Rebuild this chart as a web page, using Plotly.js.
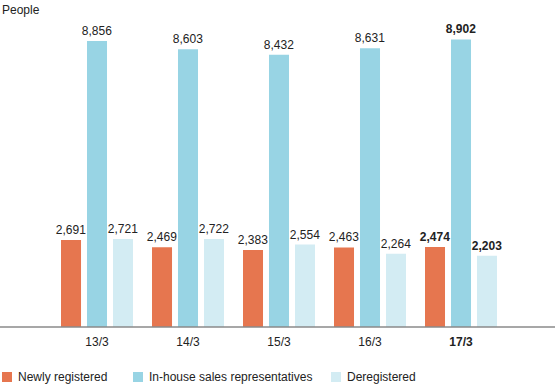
<!DOCTYPE html>
<html>
<head>
<meta charset="utf-8">
<script src="https://cdn.plot.ly/plotly-3.0.1.min.js"></script>
<style>html,body{margin:0;padding:0;background:#fff;}#chart{width:555px;height:386px;}</style>
</head>
<body>
<div id="chart"></div>
<script>
const categories = ["13/3", "14/3", "15/3", "16/3", "17/3"];
const tickLabels = ["13/3", "14/3", "15/3", "16/3", "<b>17/3</b>"];
const newlyRegistered = [2691, 2469, 2383, 2463, 2474];
const inHouseReps = [8856, 8603, 8432, 8631, 8902];
const deregistered = [2721, 2722, 2554, 2264, 2203];
const seriesNames = ["Newly registered", "In-house sales representatives", "Deregistered"];
const colors = ["#E6764F", "#98D4E4", "#D3ECF3"];

const fmt = v => v.toLocaleString("en-US");
const labels = vals => vals.map((v, i) => i === vals.length - 1 ? "<b>" + fmt(v) + "</b>" : fmt(v));

const seriesVals = [newlyRegistered, inHouseReps, deregistered];
const traces = seriesVals.map((vals, k) => ({
  type: "bar",
  name: seriesNames[k],
  x: categories,
  y: vals,
  text: labels(vals),
  textposition: "outside",
  constraintext: "none",
  textfont: {size: 12, color: "#222", family: "Liberation Sans, Arial, sans-serif"},
  cliponaxis: false,
  marker: {color: colors[k]},
  hoverinfo: "none"
}));

const W = 555, plotBottom = 327;
const legendX = [2, 133, 331];
const annotations = [{
  text: "People", xref: "paper", yref: "paper", x: 0, y: (plotBottom - 10) / plotBottom,
  xanchor: "left", yanchor: "middle", showarrow: false,
  font: {size: 12, color: "#222"}
}];
const shapes = [{
  type: "line", xref: "paper", yref: "paper", x0: 0, x1: 1, y0: 0, y1: 0,
  line: {color: "#8a8a8a", width: 1.5}
}];
seriesNames.forEach((n, k) => {
  const py = 377;
  shapes.push({
    type: "rect", xref: "paper", yref: "paper",
    x0: legendX[k] / W, x1: (legendX[k] + 10) / W,
    y0: (plotBottom - (py + 5)) / plotBottom, y1: (plotBottom - (py - 5)) / plotBottom,
    fillcolor: colors[k], line: {width: 0}
  });
  annotations.push({
    text: n, xref: "paper", yref: "paper", x: (legendX[k] + 14) / W, y: (plotBottom - py) / plotBottom,
    xanchor: "left", yanchor: "middle", showarrow: false,
    font: {size: 12, color: "#222"}
  });
});

const layout = {
  width: 555, height: 386,
  margin: {l: 0, r: 0, t: 0, b: 386 - plotBottom, pad: 0},
  paper_bgcolor: "#fff", plot_bgcolor: "#fff",
  font: {family: "Liberation Sans, Arial, sans-serif", size: 12, color: "#222"},
  barmode: "group", bargap: 0.143, bargroupgap: 0.23,
  showlegend: false,
  xaxis: {
    type: "category", range: [-1.066, 5.033], tickvals: categories, ticktext: tickLabels,
    showgrid: false, zeroline: false, showline: false,
    ticks: "outside", ticklen: 4, tickcolor: "rgba(0,0,0,0)", fixedrange: true,
    tickfont: {size: 12, color: "#222"}
  },
  yaxis: {range: [0, 10124], visible: false, showgrid: false, zeroline: false, fixedrange: true},
  shapes: shapes,
  annotations: annotations
};

Plotly.newPlot("chart", traces, layout, {displayModeBar: false, staticPlot: true});
</script>
</body>
</html>
